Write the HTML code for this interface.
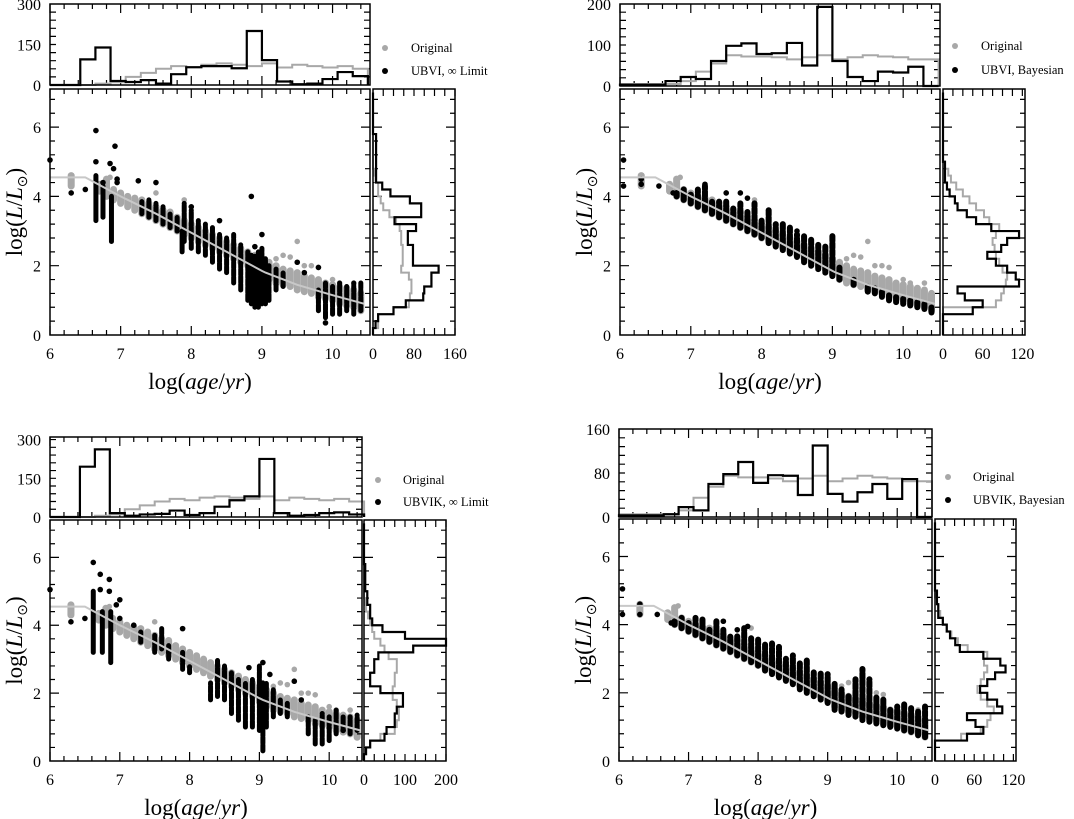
<!DOCTYPE html>
<html><head><meta charset="utf-8"><style>
html,body{margin:0;padding:0;background:#fff;}
svg{display:block;font-family:"Liberation Serif",serif;}
</style></head><body>
<svg id="fig" width="1074" height="819" viewBox="0 0 1074 819" xmlns="http://www.w3.org/2000/svg"></svg>
<script>
// ---------- shared data ----------
const trackX = [6.0, 6.5, 7.0, 7.5, 8.0, 8.5, 9.0, 9.05, 9.5, 10.0, 10.45];
const trackY = [4.55, 4.55, 4.0, 3.5, 2.95, 2.4, 1.85, 1.8, 1.45, 1.15, 0.9];
// original (gray) columns: x, low, high
const grayCols = [[6.3,4.3,4.6],[6.7,4.15,4.35],[6.8,4.0,4.5],[6.9,3.9,4.2],[7.0,3.8,4.1],[7.1,3.7,4.0],[7.2,3.6,3.95],[7.3,3.5,3.9],[7.4,3.4,3.8],[7.5,3.3,3.7],[7.6,3.2,3.6],[7.7,3.1,3.55],[7.8,3.0,3.4],[7.9,2.9,3.3],[8.0,2.8,3.2],[8.1,2.7,3.1],[8.2,2.6,3.0],[8.3,2.5,2.9],[8.4,2.4,2.8],[8.5,2.3,2.7],[8.6,2.2,2.6],[8.7,2.1,2.5],[8.8,2.0,2.4],[8.9,1.9,2.3],[9.0,1.75,2.2],[9.1,1.6,2.1],[9.2,1.5,2.0],[9.3,1.45,1.9],[9.4,1.4,1.85],[9.5,1.3,1.8],[9.6,1.25,1.7],[9.7,1.2,1.65],[9.8,1.1,1.6],[9.9,1.05,1.5],[10.0,1.0,1.45],[10.1,0.9,1.4],[10.2,0.85,1.35],[10.3,0.8,1.3],[10.4,0.7,1.2]];
const grayPts = [[9.5,2.7],[9.3,2.3],[9.7,2.0],[7.9,3.9],[7.5,4.1],[9.4,2.25],[9.6,2.0],[9.8,1.95],[10.0,1.6],[10.1,1.5],[10.3,1.5],[10.4,1.2],[9.2,2.2],[6.85,4.55]];
const grayTop = [0,0,0,5,10,30,45,60,70,65,75,80,75,70,80,65,75,70,65,70,60];
const grayRight = [0,10,10,40,70,72,75,75,70,55,58,58,58,55,55,52,45,32,20,15,10,10,5,3,0,0,0,0,0,0,0,0,0,0,0];
const grayTopB = [5,5,5,5,12,35,55,75,72,72,70,65,70,75,65,70,75,72,70,65,65];
const grayRightB = [0,0,0,0,80,88,92,95,97,90,85,80,78,75,80,85,70,62,50,40,30,20,12,8,3,0,0,0,0,0,0,0,0,0,0];
// ---------- panel 1: UBVI inf limit ----------
const p1Streaks = [[6.65,3.3,4.6],[6.75,3.4,4.3],[6.87,2.7,4.0],[7.87,2.4,3.0]];
const p1Cols = [[7.3,3.5,3.85],[7.4,3.4,3.9],[7.5,3.3,3.8],[7.6,3.2,3.7],[7.7,3.1,3.5],[7.8,3.0,3.4],[7.9,2.7,3.8],[8.0,2.5,3.6],[8.1,2.4,3.3],[8.2,2.3,3.2],[8.3,2.1,3.1],[8.4,1.9,2.9],[8.5,1.8,2.8],[8.6,1.5,2.9],[8.7,1.3,2.6],[8.8,1.0,2.4],[8.85,0.9,2.3],[8.9,0.8,2.3],[8.95,0.8,2.4],[9.0,0.9,2.5],[9.05,0.9,2.2],[9.1,1.0,2.0],[9.2,1.3,1.9],[9.3,1.4,1.8],[9.8,0.7,1.3],[9.9,0.5,1.5],[10.0,0.6,1.4],[10.1,0.6,1.5],[10.2,0.7,1.4],[10.3,0.6,1.5],[10.4,0.7,1.5]];
const p1Pts = [[6.0,5.05],[6.65,5.9],[6.65,5.0],[6.75,4.4],[6.85,4.95],[6.9,4.8],[6.92,5.45],[6.95,4.5],[6.95,4.4],[6.3,4.1],[6.5,4.2],[7.25,4.45],[7.5,4.4],[8.85,4.0],[9.5,2.1],[9.8,1.95],[9.9,0.35],[9.6,1.8],[9.0,2.9],[8.4,3.3],[8.0,3.7],[8.9,2.55]];
const p1Top = [0,0,95,139,15,11,18,5,40,66,70,70,62,200,92,13,3,5,22,48,33];
const p1Right = [0,5,10,40,64,98,100,114,114,128,78,78,78,68,68,84,42,94,94,72,34,18,6,6,6,6,6,6,6,0,0,0,0,0,0];
// ---------- panel 2: UBVI Bayesian ----------
const p2Cols = [[6.8,4.0,4.1],[6.9,3.9,4.2],[7.0,3.8,4.05],[7.1,3.7,4.2],[7.2,3.6,4.3],[7.3,3.5,3.9],[7.4,3.4,3.85],[7.5,3.3,3.9],[7.6,3.2,3.65],[7.7,3.1,3.8],[7.8,3.0,3.55],[7.9,2.9,3.8],[8.0,2.8,3.3],[8.1,2.65,3.6],[8.2,2.55,3.2],[8.3,2.45,3.2],[8.4,2.35,3.1],[8.5,2.25,2.9],[8.6,2.1,2.9],[8.7,2.0,2.8],[8.8,1.9,2.6],[8.9,1.8,2.6],[9.0,1.7,2.9],[9.1,1.6,2.0],[9.3,1.45,1.6],[9.5,1.25,1.45],[9.6,1.2,1.35],[9.7,1.1,1.3],[9.8,1.0,1.2],[9.9,0.95,1.15],[10.0,0.9,1.1],[10.1,0.85,1.05],[10.2,0.8,1.0],[10.3,0.75,0.95],[10.4,0.65,0.8]];
const p2Pts = [[6.05,5.05],[6.05,4.3],[6.3,4.5],[6.3,4.35],[6.55,4.3],[6.75,4.1],[7.5,4.1],[7.7,4.1],[7.8,3.95],[8.1,3.6],[8.5,3.0],[7.2,4.35]];
const p2Top = [3,3,3,12,22,17,61,98,104,78,80,105,50,193,61,22,12,35,33,47,0];
const p2Right = [0,0,0,45,60,33,22,115,110,97,80,67,88,97,115,73,50,36,22,18,10,6,3,3,3,0,0,0,0,0,0,0,0,0,0];
// ---------- panel 3: UBVIK inf limit ----------
const p3Streaks = [[6.62,3.2,5.0],[6.75,3.2,4.4],[6.87,2.9,4.4]];
const p3Cols = [[7.3,3.5,3.8],[7.5,3.2,3.7],[7.6,3.3,3.9],[7.7,3.0,3.4],[7.9,2.7,3.2],[8.0,2.6,2.8],[8.3,1.8,2.3],[8.4,1.9,3.0],[8.5,1.8,2.8],[8.6,1.4,2.6],[8.7,1.2,2.4],[8.8,1.0,2.3],[8.9,1.0,2.4],[9.0,0.9,2.8],[9.05,0.3,2.3],[9.1,1.0,2.3],[9.2,1.3,2.1],[9.3,1.4,1.8],[9.4,1.3,1.7],[9.7,0.8,1.3],[9.8,0.5,1.2],[9.9,0.5,1.4],[10.0,0.6,1.3],[10.1,0.8,1.5],[10.2,0.9,1.3],[10.3,0.8,1.3],[10.4,0.9,1.35]];
const p3Pts = [[6.0,5.05],[6.62,5.85],[6.72,5.5],[6.72,5.05],[6.85,5.35],[6.85,5.0],[6.95,4.6],[7.0,4.75],[7.0,4.2],[6.3,4.1],[6.5,4.2],[7.2,4.0],[7.9,3.9],[7.7,3.2],[8.85,2.75],[9.05,2.9],[9.15,2.55],[9.5,2.35],[9.6,1.8],[10.2,0.9]];
const p3Top = [0,0,195,262,15,5,10,12,25,8,15,40,65,80,225,15,5,8,15,18,10];
const p3Right = [0,5,15,50,55,75,75,80,95,95,40,15,15,25,25,35,120,200,100,45,20,15,15,8,8,3,3,3,3,0,0,0,0,0,0];
const grayRight3 = [0,5,15,40,75,80,85,85,80,70,70,75,75,80,80,60,50,40,25,20,15,10,5,3,0,0,0,0,0,0,0,0,0,0,0];
// ---------- panel 4: UBVIK Bayesian ----------
const p4Cols = [[6.8,4.0,4.1],[6.9,3.9,4.2],[7.0,3.8,4.05],[7.1,3.7,4.2],[7.2,3.6,4.15],[7.3,3.5,3.9],[7.4,3.4,4.1],[7.5,3.3,3.85],[7.6,3.2,3.65],[7.7,3.1,3.7],[7.8,3.0,3.9],[7.9,2.9,3.6],[8.0,2.8,3.6],[8.1,2.65,3.45],[8.2,2.55,3.45],[8.3,2.45,3.35],[8.4,2.35,3.0],[8.5,2.25,3.1],[8.6,2.1,2.9],[8.7,2.0,2.95],[8.8,1.9,2.6],[8.9,1.8,2.6],[9.0,1.7,2.55],[9.1,1.5,2.3],[9.2,1.45,2.1],[9.3,1.35,1.9],[9.4,1.3,2.4],[9.5,1.2,2.7],[9.6,1.15,2.4],[9.7,1.1,1.9],[9.8,1.05,1.8],[9.9,1.0,1.5],[10.0,0.95,1.6],[10.1,0.9,1.7],[10.2,0.85,1.55],[10.3,0.75,1.45],[10.4,0.7,1.6]];
const p4Pts = [[6.05,5.05],[6.05,4.3],[6.3,4.6],[6.3,4.3],[6.55,4.3],[6.75,4.05],[7.5,4.1],[7.7,3.85],[7.85,3.95],[8.3,3.35]];
const p4Top = [3,3,3,5,18,12,60,78,100,62,76,75,40,130,42,28,45,60,33,69,0];
const p4Right = [0,0,0,49,74,62,49,103,95,80,69,80,92,108,100,74,38,31,23,18,12,5,5,3,3,0,0,0,0,0,0,0,0,0,0];
const grayRight4 = [0,0,0,40,70,80,85,90,80,70,65,70,75,80,75,80,50,35,25,18,12,8,5,3,0,0,0,0,0,0,0,0,0,0,0];
// tick labels
const xTickLabels = ["6","7","8","9","10"];
const yTickLabels = ["0","2","4","6"];

const NS = "http://www.w3.org/2000/svg";
const svg = document.getElementById("fig");
function el(tag, attrs, parent) {
  const e = document.createElementNS(NS, tag);
  for (const k in attrs) e.setAttribute(k, attrs[k]);
  (parent || svg).appendChild(e);
  return e;
}
function txt(s, x, y, size, anchor, parent) {
  const t = el("text", {x: x, y: y, "font-size": size, "text-anchor": anchor || "middle", fill: "#000"}, parent);
  t.textContent = s;
  return t;
}

function drawPanel(P) {
  const g = el("g", {});
  
  
  const sx = v => P.mx0 + (v - 6) / (P.xmax - 6) * (P.mx1 - P.mx0);
  const sy = v => P.my1 - v / 7.1 * (P.my1 - P.my0);
  const ty = c => P.ty1 - c / P.topMax * (P.ty1 - P.ty0);
  const rx = c => P.rx0 + c / P.rightMax * (P.rx1 - P.rx0);

  const main = el("g", {}, g);
  
  
  const grayG = el("g", {}, main);
  
  
  grayCols.forEach(c => {
    const l = el("line", {x1: sx(c[0]), x2: sx(c[0]), y1: sy(c[1]), y2: sy(c[2]), stroke: "#a8a8a8", "stroke-width": 7, "stroke-linecap": "round"}, grayG);
    
  });
  grayPts.forEach(p => {
    const c = el("circle", {cx: sx(p[0]), cy: sy(p[1]), r: 2.8, fill: "#a8a8a8"}, grayG);
    
  });
  const blackG = el("g", {}, main);
  
  
  (P.streaks || []).forEach(c => {
    const l = el("line", {x1: sx(c[0]), x2: sx(c[0]), y1: sy(c[1]), y2: sy(c[2]), stroke: "#000", "stroke-width": 5, "stroke-linecap": "round"}, blackG);
    
  });
  P.cols.forEach(c => {
    const l = el("line", {x1: sx(c[0]), x2: sx(c[0]), y1: sy(c[1]), y2: sy(c[2]), stroke: "#000", "stroke-width": P.colW, "stroke-linecap": "round", "stroke-dasharray": P.dash || "none"}, blackG);
    
  });
  P.pts.forEach(p => {
    const c = el("circle", {cx: sx(p[0]), cy: sy(p[1]), r: 2.8, fill: "#000"}, blackG);
    
  });
  let d = "";
  trackX.forEach((x, i) => { d += (i ? "L" : "M") + sx(x).toFixed(1) + "," + sy(trackY[i]).toFixed(1); });
  const tr = el("path", {d: d, fill: "none", stroke: "#c8c8c8", "stroke-width": 2}, main);
  
  

  const fr = el("rect", {x: P.mx0, y: P.my0, width: P.mx1 - P.mx0, height: P.my1 - P.my0, fill: "none", stroke: "#000", "stroke-width": 1.5}, g);
  
  
  let tk = "";
  for (let v = 6; v <= P.xmax + 1e-6; v += 0.2) {
    const x = sx(v), maj = Math.abs(v - Math.round(v)) < 1e-6, L = maj ? 9 : 5;
    tk += `M${x},${P.my1}v${-L}M${x},${P.my0}v${L}M${x},${P.ty1}v${-L}M${x},${P.ty0}v${L}`;
  }
  for (let v = 0.4; v < 7.1; v += 0.4) {
    const y = sy(v), maj = Math.abs(v / 2 - Math.round(v / 2)) < 1e-6, L = maj ? 9 : 5;
    tk += `M${P.mx0},${y}h${L}M${P.mx1},${y}h${-L}M${P.rx0},${y}h${L}M${P.rx1},${y}h${-L}`;
  }
  for (let c = P.topStep; c < P.topMax; c += P.topStep) {
    const y = ty(c);
    tk += `M${P.mx0},${y}h6M${P.mx1},${y}h-6`;
  }
  for (let c = P.rightStep; c <= P.rightMax; c += P.rightStep) {
    const x = rx(c);
    tk += `M${x},${P.my1}v-7M${x},${P.my0}v7`;
  }
  const ticks = el("path", {d: tk, stroke: "#000", "stroke-width": 1.2, fill: "none"}, g);
  
  

  xTickLabels.forEach((s, i) => {
    const t = txt(s, sx(6 + i), P.my1 + 24, 16, "middle", g);
    
  });
  yTickLabels.forEach((s, i) => {
    const t = txt(s, P.mx0 - 9, sy(2 * i) + 6, 16, "end", g);
    
  });
  const xt = el("text", {x: (P.mx0 + P.mx1) / 2 - 10, y: P.my1 + 54, "font-size": 23, "text-anchor": "middle"}, g);
  
  xt.innerHTML = 'log(<tspan font-style="italic">age</tspan>/<tspan font-style="italic">yr</tspan>)';
  const yt = el("text", {x: 0, y: 0, "font-size": 23, "text-anchor": "middle", transform: `translate(${P.mx0 - 28},${(P.my0 + P.my1) / 2}) rotate(-90)`}, g);
  
  yt.innerHTML = 'log(<tspan font-style="italic">L</tspan>/<tspan font-style="italic">L</tspan><tspan font-size="14" dy="5">\u2299</tspan><tspan dy="-5">)</tspan>';

  const tg = el("g", {}, g);
  
  
  const bw = 4.5 / 21;
  function topPath(arr) {
    let s = `M${sx(6)},${ty(0)}`;
    arr.forEach((c, i) => { s += `L${sx(6 + i * bw)},${ty(c)}L${sx(6 + (i + 1) * bw)},${ty(c)}`; });
    return s + `L${sx(6 + arr.length * bw)},${ty(0)}`;
  }
  const tgp = el("path", {d: topPath(P.grayTop), fill: "none", stroke: "#a8a8a8", "stroke-width": 2}, tg);
  
  const tbp = el("path", {d: topPath(P.top), fill: "none", stroke: "#000", "stroke-width": 2.2}, tg);
  
  const tf = el("rect", {x: P.mx0, y: P.ty0, width: P.mx1 - P.mx0, height: P.ty1 - P.ty0, fill: "none", stroke: "#000", "stroke-width": 1.5}, tg);
  
  P.topLabels.forEach((s, i) => {
    const t = txt(s, P.mx0 - 9, ty(i * P.topMax / 2 * P.topLabelFrac) + 6, 16, "end", tg);
    
  });

  const rg = el("g", {}, g);
  
  
  function rightPath(arr) {
    let s = `M${rx(0)},${sy(0)}`;
    arr.forEach((c, i) => { s += `L${rx(c)},${sy(i * 0.2)}L${rx(c)},${sy((i + 1) * 0.2)}`; });
    return s + `L${rx(0)},${sy(arr.length * 0.2)}`;
  }
  const rgp = el("path", {d: rightPath(P.grayRight), fill: "none", stroke: "#a8a8a8", "stroke-width": 2}, rg);
  
  const rbp = el("path", {d: rightPath(P.right), fill: "none", stroke: "#000", "stroke-width": 2.2}, rg);
  
  const rf = el("rect", {x: P.rx0, y: P.my0, width: P.rx1 - P.rx0, height: P.my1 - P.my0, fill: "none", stroke: "#000", "stroke-width": 1.5}, rg);
  
  P.rightLabels.forEach((s, i) => {
    const t = txt(s, rx(P.rightLabelVals[i]), P.my1 + 24, 16, "middle", rg);
    
  });

  const lg = el("g", {}, g);
  
  
  const c1 = el("circle", {cx: P.lx, cy: P.ly1, r: 3, fill: "#a8a8a8"}, lg);
  
  const t1 = txt("Original", P.tx, P.ly1 + 4, 12.5, "start", lg);
  
  const c2 = el("circle", {cx: P.lx, cy: P.ly2, r: 3, fill: "#000"}, lg);
  
  const t2 = txt(P.legend, P.tx, P.ly2 + 4, 12.5, "start", lg);
  
}

drawPanel({name: "panel-ubvi-limit", mx0: 50, mx1: 370, xmax: 10.53, my0: 89, my1: 335, ty0: 4, ty1: 85, rx0: 373, rx1: 455,
  topMax: 300, topStep: 30, topLabels: ["0", "150", "300"], topLabelFrac: 1, rightMax: 160, rightStep: 20,
  rightLabels: ["0", "80", "160"], rightLabelVals: [0, 80, 160],
  streaks: p1Streaks, cols: p1Cols, colW: 5, dash: "6 1.5", pts: p1Pts, top: p1Top, grayTop: grayTop, right: p1Right, grayRight: grayRight,
  lx: 385, ly1: 48, ly2: 71, tx: 411, legend: "UBVI, \u221E Limit"});
drawPanel({name: "panel-ubvi-bayesian", mx0: 620, mx1: 940, xmax: 10.52, my0: 89, my1: 335, ty0: 4, ty1: 86, rx0: 943, rx1: 1025,
  topMax: 200, topStep: 20, topLabels: ["0", "100", "200"], topLabelFrac: 1, rightMax: 124, rightStep: 15,
  rightLabels: ["0", "60", "120"], rightLabelVals: [0, 60, 120],
  cols: p2Cols, colW: 6, dash: "5 2", pts: p2Pts, top: p2Top, grayTop: grayTopB, right: p2Right, grayRight: grayRightB,
  lx: 955, ly1: 46, ly2: 70, tx: 981, legend: "UBVI, Bayesian"});
drawPanel({name: "panel-ubvik-limit", mx0: 50, mx1: 362, xmax: 10.47, my0: 520, my1: 761, ty0: 437, ty1: 517, rx0: 364, rx1: 446,
  topMax: 310, topStep: 30, topLabels: ["0", "150", "300"], topLabelFrac: 300 / 310, rightMax: 200, rightStep: 25,
  rightLabels: ["0", "100", "200"], rightLabelVals: [0, 100, 200],
  streaks: p3Streaks, cols: p3Cols, colW: 5, dash: "6 1.5", pts: p3Pts, top: p3Top, grayTop: grayTop, right: p3Right, grayRight: grayRight3,
  lx: 378, ly1: 480, ly2: 502, tx: 403, legend: "UBVIK, \u221E Limit"});
drawPanel({name: "panel-ubvik-bayesian", mx0: 619, mx1: 932, xmax: 10.5, my0: 519, my1: 761, ty0: 429, ty1: 517, rx0: 935, rx1: 1016,
  topMax: 160, topStep: 16, topLabels: ["0", "80", "160"], topLabelFrac: 1, rightMax: 124, rightStep: 15,
  rightLabels: ["0", "60", "120"], rightLabelVals: [0, 60, 120],
  cols: p4Cols, colW: 6, dash: "5 2", pts: p4Pts, top: p4Top, grayTop: grayTopB, right: p4Right, grayRight: grayRight4,
  lx: 948, ly1: 477, ly2: 500, tx: 973, legend: "UBVIK, Bayesian"});
</script>
</body></html>
